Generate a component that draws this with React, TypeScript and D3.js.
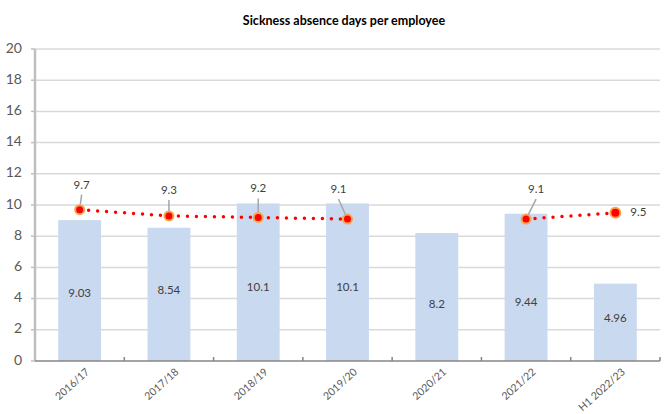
import React from 'react';
import * as d3 from 'd3';

const categories = ['2016/17', '2017/18', '2018/19', '2019/20', '2020/21', '2021/22', 'H1 2022/23'];
const barValues = [9.03, 8.54, 10.1, 10.1, 8.2, 9.44, 4.96];
const lineValues: (number | null)[] = [9.7, 9.3, 9.2, 9.1, null, 9.1, 9.5];
const yTicks = [0, 2, 4, 6, 8, 10, 12, 14, 16, 18, 20];

// layout of the hand-placed labels (pixels / data units), not data
const barLabelAt = [4.3, 4.5, 4.65, 4.65, 3.6, 3.7, 2.7];
const lineLabelOffsets = [[2, -24], [0, -25], [0, -28], [-9, -29], null, [10, -29], [23, 0]];

const W = 664;
const H = 414;
const left = 35;
const right = 660;
const top = 49;
const bottom = 361;
const font = 'Lato, "Open Sans", sans-serif';

export default function App() {
  const x = d3.scaleBand().domain(categories).range([left, right]).padding(0);
  const y = d3.scaleLinear().domain([0, 20]).range([bottom, top]);
  const cx = (i: number) => (x(categories[i]) as number) + x.bandwidth() / 2;
  const barW = x.bandwidth() * 0.48;

  const line = d3.line<number | null>()
    .defined(d => d != null)
    .x((d, i) => cx(i))
    .y(d => y(d as number));

  return (
    <svg width={W} height={H} style={{ position: 'absolute', left: 0, top: 0, background: '#fff' }}>
      <text x={344} y={25} textAnchor="middle" fontFamily={font} fontWeight="bold" fontSize={12.5} fill="#000">
        Sickness absence days per employee
      </text>

      {yTicks.filter(t => t > 0).map(t => (
        <line key={'g' + t} x1={left} x2={right} y1={y(t)} y2={y(t)} stroke="#d9d9d9" strokeWidth={1.5} />
      ))}

      {barValues.map((v, i) => (
        <rect key={'b' + i} x={cx(i) - barW / 2} y={y(v)} width={barW} height={y(0) - y(v)} fill="#c9d9ef" />
      ))}

      {barValues.map((v, i) => (
        <text key={'bl' + i} x={cx(i)} y={y(barLabelAt[i])} textAnchor="middle" dominantBaseline="middle"
          fontFamily={font} fontSize={11.5} fill="#404040">{String(v)}</text>
      ))}

      {/* y axis */}
      <line x1={left} x2={left} y1={top} y2={bottom} stroke="#bfbfbf" strokeWidth={2.5} />
      {yTicks.map(t => (
        <g key={'yt' + t}>
          <line x1={left - 4} x2={left} y1={y(t)} y2={y(t)} stroke="#bfbfbf" strokeWidth={1.5} />
          <text x={22} y={y(t)} textAnchor="end" dominantBaseline="middle" fontFamily={font} fontSize={14} fill="#595959">{t}</text>
        </g>
      ))}

      {/* x axis */}
      <line x1={left} x2={right} y1={bottom} y2={bottom} stroke="#868686" strokeWidth={1.5} />
      {categories.map((c, i) => {
        const bx = (x(c) as number) + x.bandwidth();
        return <line key={'xt' + i} x1={bx} x2={bx} y1={bottom - 4} y2={bottom} stroke="#868686" strokeWidth={1.5} />;
      })}
      {categories.map((c, i) => (
        <text key={'xl' + i} transform={`translate(${cx(i) + 5},${bottom + 6}) rotate(-42)`} textAnchor="end"
          dominantBaseline="hanging" fontFamily={font} fontSize={10.5} fill="#595959">{c}</text>
      ))}

      {/* dotted line */}
      <path d={line(lineValues) || ''} fill="none" stroke="#ff0000" strokeWidth={3.5} strokeDasharray="0 9" strokeLinecap="round" />

      {lineValues.map((v, i) => {
        if (v == null) return null;
        const last = i === lineValues.length - 1;
        return (
          <circle key={'m' + i} cx={cx(i)} cy={y(v)} r={last ? 5 : 4.5} fill="#ff0000" stroke="#f7a54a" strokeWidth={2} />
        );
      })}

      {lineValues.map((v, i) => {
        const off = lineLabelOffsets[i];
        if (v == null || !off) return null;
        const px = cx(i);
        const py = y(v);
        const lx = px + off[0];
        const ly = py + off[1];
        let leader = null;
        if (off[1] < -10) {
          const sx = lx;
          const sy = ly + 9;
          const dx = px - sx;
          const dy = py - sy;
          const len = Math.sqrt(dx * dx + dy * dy);
          const ex = px - (dx / len) * 5;
          const ey = py - (dy / len) * 5;
          leader = <line x1={sx} y1={sy} x2={ex} y2={ey} stroke="#a6a6a6" strokeWidth={1.5} />;
        }
        return (
          <g key={'ll' + i}>
            {leader}
            <text x={off[1] < -10 ? lx : lx - 8} y={ly} textAnchor={off[1] < -10 ? 'middle' : 'start'} dominantBaseline="middle"
              fontFamily={font} fontSize={11.5} fill="#404040">{String(v)}</text>
          </g>
        );
      })}
    </svg>
  );
}
